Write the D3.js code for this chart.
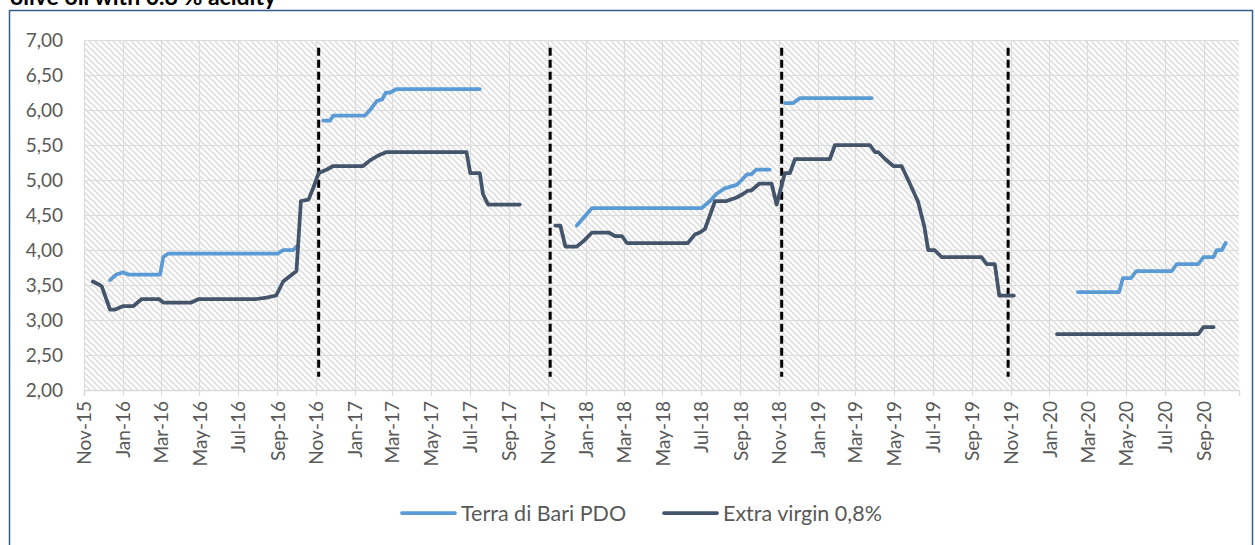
<!DOCTYPE html>
<html>
<head>
<meta charset="utf-8">
<script src="https://cdn.jsdelivr.net/npm/d3@7"></script>
<style>
  body { margin: 0; background: #fff; }
  svg { display: block; font-family: Lato, "Noto Sans", sans-serif; }
</style>
</head>
<body>
<svg id="chart" width="1255" height="545"></svg>
<script>
// Terra di Bari PDO (null = gap)
const terraDates = ["2015-12-12","2015-12-22","2016-01-02","2016-01-10","2016-02-29","2016-03-05","2016-03-13","2016-09-02","2016-09-10","2016-09-26","2016-10-01",
  "2016-10-20",
  "2016-11-12","2016-11-23","2016-11-28","2017-01-17","2017-01-25","2017-02-05","2017-02-13","2017-02-19","2017-02-26","2017-03-08","2017-07-17",
  "2017-09-01",
  "2017-12-17","2018-01-10","2018-07-02","2018-07-15","2018-07-25","2018-08-07","2018-08-26","2018-09-03","2018-09-11","2018-09-18","2018-09-26","2018-10-17",
  "2018-10-30",
  "2018-11-10","2018-11-23","2018-12-04","2019-03-27",
  "2019-06-01",
  "2020-02-15","2020-04-20","2020-04-26","2020-05-09","2020-05-17","2020-07-12","2020-07-20","2020-08-23","2020-08-31","2020-09-16","2020-09-21","2020-09-29","2020-10-05"];
const terraValues = [3.57,3.65,3.68,3.65,3.65,3.90,3.95,3.95,4.00,4.00,4.05,
  null,
  5.85,5.85,5.92,5.92,6.00,6.13,6.15,6.25,6.25,6.30,6.30,
  null,
  4.35,4.60,4.60,4.70,4.80,4.88,4.93,5.00,5.08,5.08,5.15,5.15,
  null,
  6.10,6.10,6.17,6.17,
  null,
  3.40,3.40,3.60,3.60,3.70,3.70,3.80,3.80,3.90,3.90,4.00,4.00,4.10];

// Extra virgin 0,8%
const evDates = ["2015-11-15","2015-11-26","2015-11-29","2015-12-12","2015-12-20","2016-01-02","2016-01-18","2016-01-31","2016-02-27","2016-03-05","2016-04-18","2016-04-30","2016-07-30","2016-08-15","2016-08-30","2016-09-10","2016-10-01","2016-10-08","2016-10-20","2016-10-28","2016-11-05","2016-11-18","2016-11-28","2017-01-14","2017-01-25","2017-02-07","2017-02-20","2017-06-26","2017-07-02","2017-07-17","2017-07-22","2017-07-30","2017-09-18",
  "2017-10-15",
  "2017-11-13","2017-11-21","2017-11-29","2017-12-17","2017-12-28","2018-01-10","2018-02-05","2018-02-15","2018-02-26","2018-03-06","2018-06-10","2018-06-21","2018-06-29","2018-07-07","2018-07-15","2018-07-23","2018-08-10","2018-08-26","2018-09-05","2018-09-13","2018-09-18","2018-10-01","2018-10-20","2018-10-28","2018-11-10","2018-11-18","2018-11-26","2019-01-20","2019-01-28","2019-03-24","2019-04-01","2019-04-06","2019-04-17","2019-04-30","2019-05-13","2019-05-26","2019-06-08","2019-06-18","2019-06-24","2019-07-04","2019-07-15","2019-09-16","2019-09-24","2019-10-07","2019-10-14","2019-11-06",
  "2019-12-10",
  "2020-01-13","2020-08-23","2020-08-31","2020-09-16"];
const evValues = [3.55,3.50,3.48,3.15,3.15,3.20,3.20,3.30,3.30,3.25,3.25,3.30,3.30,3.32,3.35,3.55,3.70,4.70,4.72,4.90,5.10,5.15,5.20,5.20,5.28,5.35,5.40,5.40,5.10,5.10,4.80,4.65,4.65,
  null,
  4.35,4.35,4.05,4.05,4.13,4.25,4.25,4.20,4.20,4.10,4.10,4.22,4.25,4.30,4.50,4.70,4.70,4.75,4.80,4.85,4.85,4.95,4.95,4.65,5.10,5.10,5.30,5.30,5.50,5.50,5.40,5.40,5.30,5.20,5.20,4.95,4.69,4.33,4.00,4.00,3.90,3.90,3.80,3.80,3.35,3.35,
  null,
  2.80,2.80,2.90,2.90];

// season separators (dashed lines)
const separators = ["2016-11-05","2017-11-05","2018-11-05","2019-10-28"];
const yTicks = [2,2.5,3,3.5,4,4.5,5,5.5,6,6.5,7];

const parse = d3.timeParse("%Y-%m-%d");
const series = [
  {name: "Terra di Bari PDO", color: "#5B9BD5", pts: terraDates.map((d, i) => ({date: parse(d), value: terraValues[i]}))},
  {name: "Extra virgin 0,8%", color: "#44546A", pts: evDates.map((d, i) => ({date: parse(d), value: evValues[i]}))}
];

const svg = d3.select("#chart");
const plot = {left: 84, right: 1239, top: 40, bottom: 390};

const x = d3.scaleTime().domain([parse("2015-11-01"), parse("2020-10-26")]).range([plot.left, plot.right]);
const y = d3.scaleLinear().domain([2, 7]).range([plot.bottom, plot.top]);

// hatch pattern
const pat = svg.append("defs").append("pattern")
  .attr("id", "hatch").attr("patternUnits", "userSpaceOnUse")
  .attr("width", 6).attr("height", 6);
pat.append("rect").attr("width", 6).attr("height", 6).attr("fill", "#fff");
pat.append("path").attr("d", "M-1,-1 L7,7 M-4,2 L1,7 M5,-1 L8,2")
  .attr("stroke", "#e0e0e0").attr("stroke-width", 1.7);

// chart border
svg.append("rect").attr("x", 9.5).attr("y", 10.5).attr("width", 1243).attr("height", 540)
  .attr("fill", "none").attr("stroke", "#2F5F8F").attr("stroke-width", 1.5);

// title (cut off at top, as in the source)
svg.append("text").attr("x", 10).attr("y", 5)
  .attr("font-size", 23).attr("font-weight", "bold").attr("fill", "#000")
  .text("olive oil with 0.8 % acidity");

svg.append("rect").attr("x", plot.left).attr("y", plot.top)
  .attr("width", plot.right - plot.left).attr("height", plot.bottom - plot.top)
  .attr("fill", "url(#hatch)");

const xTicks = d3.timeMonth.every(2).range(parse("2015-11-01"), parse("2020-10-26"));

// gridlines
svg.append("g").selectAll("line").data(yTicks).join("line")
  .attr("x1", plot.left).attr("x2", plot.right).attr("y1", d => y(d) + 0.5).attr("y2", d => y(d) + 0.5)
  .attr("stroke", "#dcdcdc").attr("stroke-width", 1.2);
svg.append("g").selectAll("line").data(xTicks).join("line")
  .attr("x1", d => Math.round(x(d)) + 0.5).attr("x2", d => Math.round(x(d)) + 0.5)
  .attr("y1", plot.top).attr("y2", plot.bottom + 6)
  .attr("stroke", "#dcdcdc").attr("stroke-width", 1.2);

// x axis
const xAxis = svg.append("g").attr("transform", `translate(0,${plot.bottom})`)
  .call(d3.axisBottom(x).tickValues(xTicks).tickFormat(d3.timeFormat("%b-%y")).tickSize(6));
xAxis.select(".domain").attr("stroke", "#d9d9d9").attr("stroke-width", 1.5);
xAxis.selectAll(".tick line").remove();
xAxis.selectAll(".tick text")
  .attr("font-size", 19).attr("fill", "#595959").attr("font-family", "Lato, sans-serif")
  .attr("transform", "rotate(-90)")
  .attr("text-anchor", "end").attr("x", -11).attr("y", 0).attr("dy", "0.35em");

// y axis
const yAxis = svg.append("g").attr("transform", `translate(${plot.left},0)`)
  .call(d3.axisLeft(y).tickValues(yTicks).tickFormat(d => d3.format(".2f")(d).replace(".", ",")).tickSize(0));
yAxis.select(".domain").remove();
yAxis.selectAll(".tick text")
  .attr("font-size", 19).attr("fill", "#595959").attr("font-family", "Lato, sans-serif")
  .attr("x", -21);

// dashed separators
svg.append("g").selectAll("line").data(separators).join("line")
  .attr("x1", d => x(parse(d))).attr("x2", d => x(parse(d)))
  .attr("y1", y(6.89)).attr("y2", y(2.19))
  .attr("stroke", "#000").attr("stroke-width", 3).attr("stroke-dasharray", "8,4");

// series lines
const line = d3.line().defined(d => d.value != null).x(d => x(d.date)).y(d => y(d.value));
svg.append("g").selectAll("path").data(series).join("path")
  .attr("d", s => line(s.pts))
  .attr("fill", "none").attr("stroke", s => s.color).attr("stroke-width", 3.75)
  .attr("stroke-linejoin", "round").attr("stroke-linecap", "round");

// legend
const legendX = [402, 664];
const lg = svg.append("g").selectAll("g").data(series).join("g")
  .attr("transform", (s, i) => `translate(${legendX[i]},513)`);
lg.append("line").attr("x1", 0).attr("x2", 53).attr("stroke", s => s.color)
  .attr("stroke-width", 3.75).attr("stroke-linecap", "round");
lg.append("text").attr("x", 59).attr("dy", "0.35em").attr("font-size", 21.5).attr("fill", "#595959")
  .text(s => s.name);
</script>
</body>
</html>
